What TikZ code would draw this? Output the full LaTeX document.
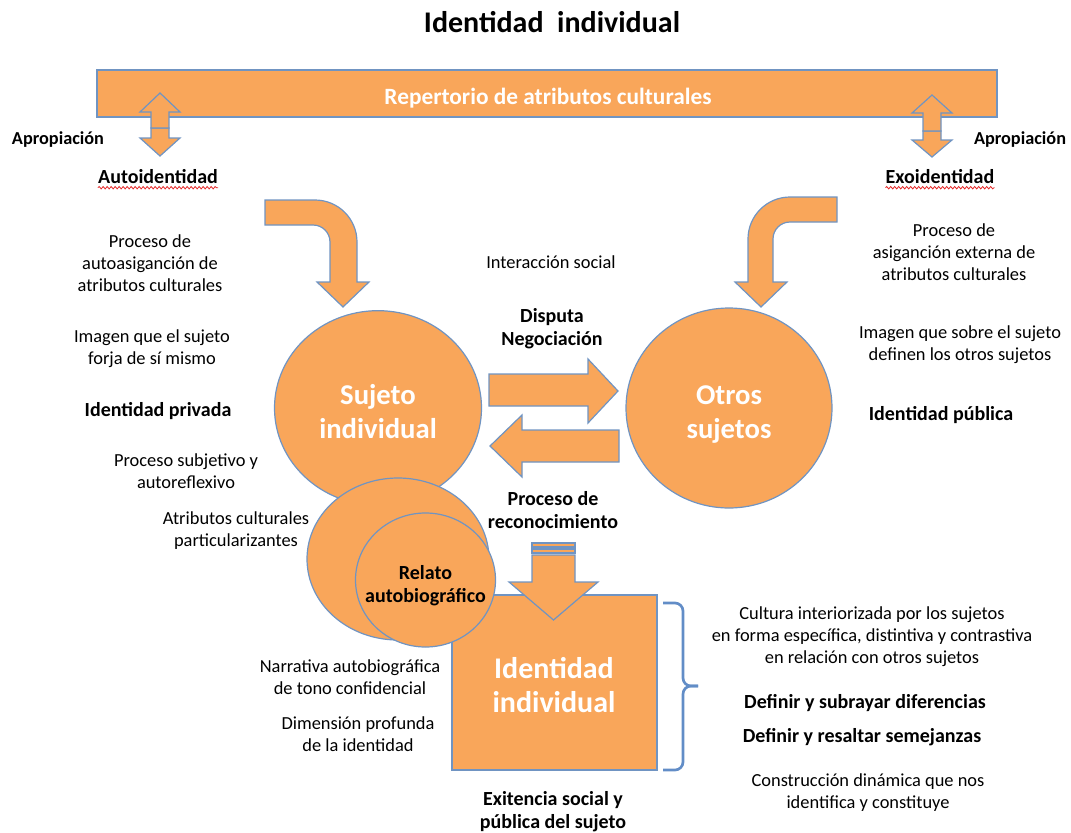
\documentclass[tikz,border=0pt]{standalone}
\usepackage{fontspec}
\setmainfont{Carlito}
\usetikzlibrary{shapes.geometric,decorations.pathmorphing}
\definecolor{orfill}{RGB}{249,166,90}
\definecolor{orline}{RGB}{112,148,194}
\definecolor{bracecol}{RGB}{98,141,199}
\definecolor{wavered}{RGB}{228,40,40}

\begin{document}
\begin{tikzpicture}[x=0.75pt, y=-0.75pt, every node/.style={align=center, inner sep=0pt},
	blk/.style={fill=orfill, draw=orline, line width=0.9pt},
	small/.style={font=\fontsize{13.8}{16.5}\selectfont},
	bsmall/.style={font=\fontsize{13.7}{16.5}\selectfont\bfseries},
	bmid/.style={font=\fontsize{15}{17.2}\selectfont\bfseries},
	big/.style={font=\fontsize{21.5}{25}\selectfont\bfseries, text=white},
	wavy/.style={draw=wavered, line width=0.6pt, decorate, decoration={snake, amplitude=0.9pt, segment length=3pt}}]
	\useasboundingbox (0,0) rectangle (1071,832);
	% title and repertoire bar
	\node[font=\fontsize{22.5}{26}\selectfont\bfseries] (title) at (552,22) {Identidad\ \ individual};
	\node[blk, minimum width=675pt, minimum height=35.25pt] (repert) at (547,93.5) {};
	\node[font=\fontsize{17.5}{20}\selectfont\bfseries, text=white] (reptxt) at (548,98) {Repertorio de atributos culturales};
	% appropriation arrows
	\foreach \cx/\ya/\yb/\yc/\yd/\ye in {160/93/112/128/138/156, 932/95/113/131/140/157}{
		\draw[blk] (\cx-9,\yc) -- (\cx-9,\yd) -- (\cx-20,\yd) -- (\cx,\ye) -- (\cx+20,\yd) -- (\cx+9,\yd) -- (\cx+9,\yc) -- cycle;
		\draw[blk] (\cx-9,\yc) -- (\cx-9,\yb) -- (\cx-20,\yb) -- (\cx,\ya) -- (\cx+20,\yb) -- (\cx+9,\yb) -- (\cx+9,\yc) -- cycle;
	}
	% bent arrows
	\draw[blk] (265,200) -- (315,200) .. controls (338.2,200) and (357,218.8) .. (357,242) -- (357,282) -- (369,282) -- (343,307) -- (317,282) -- (330,282) -- (330,242) .. controls (330,232.6) and (322.4,225) .. (313,225) -- (265,225) -- cycle;
	\draw[blk] (837,197) -- (790,197) .. controls (766.8,197) and (748,215.8) .. (748,239) -- (748,282) -- (735,282) -- (761,307) -- (787,282) -- (773,282) -- (773,239) .. controls (773,229.6) and (780.6,222) .. (790,222) -- (837,222) -- cycle;
	% subjects
	\node[blk, ellipse, minimum width=155.25pt, minimum height=146pt] (sujeto) at (378,408) {};
	\node[big] (sujtxt) at (378,411.5) {Sujeto\\individual};
	\node[blk, ellipse, minimum width=154.5pt, minimum height=150pt] (otros) at (729,408) {};
	\node[big] (otrtxt) at (729,414.5) {Otros\\sujetos};
	\draw[blk] (489,374) -- (588,374) -- (588,359) -- (618,391) -- (588,423) -- (588,406) -- (489,406) -- cycle;
	\draw[blk] (619,430) -- (522,430) -- (522,415) -- (490,446) -- (522,477) -- (522,462) -- (619,462) -- cycle;
	% individual identity
	\node[blk, minimum width=153.75pt, minimum height=131.25pt] (idind) at (554.5,682.5) {};
	\node[big, font=\fontsize{22.5}{26}\selectfont\bfseries] (idtxt) at (554,685) {Identidad\\individual};
	\node[blk, ellipse, minimum width=136.5pt, minimum height=121.5pt] (atrib) at (398,559) {};
	\node[blk, ellipse, minimum width=105pt, minimum height=100.5pt] (relato) at (425.5,580) {};
	\node[bmid] (reltxt) at (425.5,586) {Relato\\autobiográfico};
	\draw[blk] (532,543) rectangle (575,547);
	\draw[blk] (532,549) rectangle (575,553);
	\draw[blk] (532,555) -- (532,582) -- (509,582) -- (553.5,620) -- (598,582) -- (575,582) -- (575,555) -- cycle;
	\draw[bracecol, line width=2pt, rounded corners=6pt] (663,603) -- (683,603) -- (683,686) -- (698,686);
	\draw[bracecol, line width=2pt, rounded corners=6pt] (698,686) -- (683,686) -- (683,770) -- (663,770);
	% left texts
	\node[bsmall] (aprizq) at (58,140) {Apropiación};
	\node[bmid] (autoid) at (158,177) {Autoidentidad};
	\draw[wavy] ([yshift=-2.5pt]autoid.south west) -- ([yshift=-2.5pt]autoid.south east);
	\node[small] (procauto) at (150,263) {Proceso de\\autoasiganción de\\atributos culturales};
	\node[small] (imgpriv) at (152,349) {Imagen que el sujeto\\forja de sí mismo};
	\node[bmid] (idpriv) at (158,411) {Identidad privada};
	\node[small] (subjet) at (186,471) {Proceso subjetivo y\\autoreflexivo};
	\node[small] (atrpart) at (236,531) {Atributos culturales\\particularizantes};
	\node[small] (narrat) at (350,677) {Narrativa autobiográfica\\de tono confidencial};
	\node[small] (dimprof) at (358,734) {Dimensión profunda\\de la identidad};
	% middle texts
	\node[small] (interac) at (551,262) {Interacción social};
	\node[bmid] (disputa) at (552,329) {Disputa\\Negociación};
	\node[bmid] (recon) at (553,510) {Proceso de\\reconocimiento};
	\node[bmid] (exist) at (553,812) {Exitencia social y\\pública del sujeto};
	% right texts
	\node[bsmall] (aprder) at (1020,140) {Apropiación};
	\node[bmid] (exoid) at (940,177) {Exoidentidad};
	\draw[wavy] ([yshift=-2.5pt]exoid.south west) -- ([yshift=-2.5pt]exoid.south east);
	\node[small] (procexo) at (954,252) {Proceso de\\asiganción externa de\\atributos culturales};
	\node[small] (imgpub) at (960,345) {Imagen que sobre el sujeto\\definen los otros sujetos};
	\node[bmid] (idpub) at (941,415) {Identidad pública};
	\node[small] (cultura) at (872,637) {Cultura interiorizada por los sujetos\\en forma específica, distintiva y contrastiva\\en relación con otros sujetos};
	\node[bmid] (difer) at (865,703) {Definir y subrayar diferencias};
	\node[bmid] (semej) at (862,737) {Definir y resaltar semejanzas};
	\node[small] (constr) at (868,793) {Construcción dinámica que nos\\identifica y constituye};
\end{tikzpicture}
\end{document}
